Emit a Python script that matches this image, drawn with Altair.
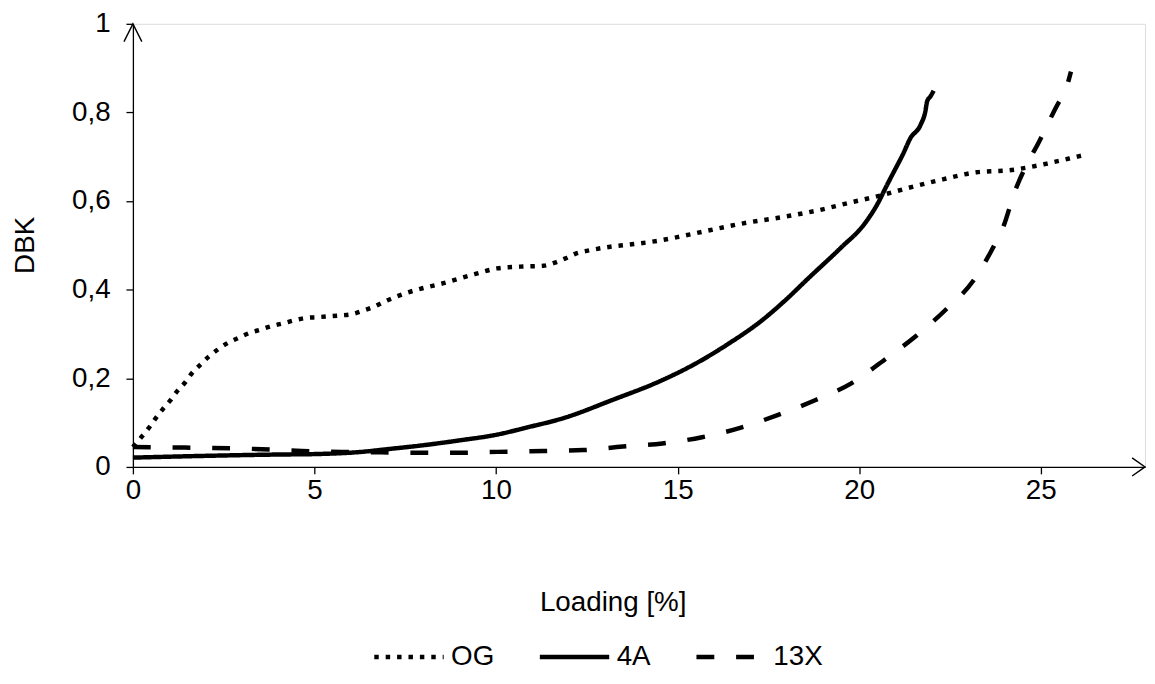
import altair as alt
import pandas as pd

# ---- data ----
og_x = [0.0, 0.24, 0.44, 0.63, 0.82, 1.03, 1.22, 1.43, 1.63, 1.86, 2.09, 2.34, 2.62, 2.9, 3.2, 3.52,
        3.83, 4.13, 4.45, 4.75, 5.08, 5.4, 5.72, 6.04, 6.35, 6.65, 6.95, 7.24, 7.54, 7.83, 8.16, 8.47,
        9.41, 10.03, 10.66, 11.3, 11.62, 11.92, 12.21, 12.53, 13.15, 13.8, 14.43, 15.07, 15.7, 16.33,
        16.96, 17.6, 18.24, 18.86, 19.82, 20.41, 21.37, 22.3, 23.23, 24.19, 25.14, 25.78, 26.15]
og_y = [0.045, 0.068, 0.088, 0.11, 0.13, 0.15, 0.171, 0.19, 0.212, 0.231, 0.249, 0.265, 0.28, 0.291,
        0.302, 0.31, 0.318, 0.324, 0.331, 0.336, 0.338, 0.34, 0.342, 0.345, 0.353, 0.362, 0.374, 0.384,
        0.393, 0.4, 0.407, 0.413, 0.435, 0.448, 0.452, 0.454, 0.461, 0.471, 0.482, 0.488, 0.497, 0.503,
        0.51, 0.52, 0.531, 0.542, 0.552, 0.56, 0.569, 0.579, 0.598, 0.609, 0.63, 0.649, 0.665, 0.67,
        0.684, 0.696, 0.703]

a4_x = [0.0, 2.0, 4.0, 5.0, 6.3, 7.0, 8.0, 9.0, 10.03, 10.85, 11.85, 13.2, 14.58, 15.49, 16.4, 17.31,
        17.95, 18.59, 19.5, 20.14, 20.5, 20.77, 20.96, 21.2, 21.41, 21.69, 21.82, 21.87, 21.96, 22.05]
a4_y = [0.021, 0.025, 0.028, 0.029, 0.034, 0.04, 0.049, 0.06, 0.073, 0.089, 0.11, 0.151, 0.196, 0.233,
        0.278, 0.33, 0.375, 0.425, 0.495, 0.548, 0.593, 0.637, 0.667, 0.705, 0.742, 0.772, 0.802, 0.825,
        0.836, 0.849]

x13_x = [0.0, 1.0, 2.0, 3.55, 4.65, 5.74, 6.83, 7.9, 9.0, 10.03, 11.3, 12.4, 13.49, 14.58, 15.67, 16.72,
         17.75, 18.8, 19.77, 20.7, 21.59, 22.41, 23.14, 23.64, 23.96, 24.3, 24.6, 24.96, 25.14, 25.51,
         25.65, 25.83]
x13_y = [0.045, 0.044, 0.043, 0.04, 0.036, 0.034, 0.033, 0.032, 0.032, 0.034, 0.036, 0.038, 0.046, 0.053,
         0.067, 0.088, 0.117, 0.151, 0.188, 0.242, 0.297, 0.357, 0.42, 0.488, 0.54, 0.625, 0.68, 0.735,
         0.765, 0.825, 0.843, 0.892]

series_names = ["OG", "4A", "13X"]
x_ticks = [0, 5, 10, 15, 20, 25]
y_ticks = [0, 0.2, 0.4, 0.6, 0.8, 1.0]
X_MAX = 27.87
Y_MAX = 1.0

rows = []
for name, xs, ys in [("OG", og_x, og_y), ("4A", a4_x, a4_y), ("13X", x13_x, x13_y)]:
    for i, (xv, yv) in enumerate(zip(xs, ys)):
        rows.append({"series": name, "x": xv, "y": yv, "i": i})
df = pd.DataFrame(rows)

FONT = "Liberation Sans"
FS = 28

xscale = alt.Scale(domain=[0, X_MAX], nice=False, zero=False)
yscale = alt.Scale(domain=[0, Y_MAX], nice=False)

lines = alt.Chart(df).mark_line(color="black", strokeWidth=4.5, strokeCap="butt", clip=False,
                                interpolate="monotone").encode(
    x=alt.X("x:Q", scale=xscale,
            axis=alt.Axis(values=x_ticks, title="Loading [%]", grid=False, domainColor="black",
                          domainWidth=1.3, tickColor="black", tickWidth=1.3, tickSize=7,
                          labelFont=FONT, labelFontSize=FS, labelColor="black", labelPadding=3,
                          titleFont=FONT, titleFontSize=FS, titleFontWeight="normal", titleColor="black",
                          titleX=484, titleY=137, titleBaseline="middle", titleAlign="center",
                          labelFlush=False)),
    y=alt.Y("y:Q", scale=yscale,
            axis=alt.Axis(values=y_ticks, title="DBK", grid=False, domainColor="black",
                          domainWidth=1.3, tickColor="black", tickWidth=1.3, tickSize=7,
                          labelFont=FONT, labelFontSize=FS, labelColor="black", labelPadding=16,
                          labelExpr="replace(format(datum.value, '.1~f'), '.', ',')",
                          titleFont=FONT, titleFontSize=FS, titleFontWeight="normal", titleColor="black",
                          titleX=-108, titleY=223, titleAngle=270, titleBaseline="middle",
                          titleAlign="center", labelFlush=False)),
    strokeDash=alt.StrokeDash("series:N",
                              scale=alt.Scale(domain=series_names, range=[[4.5, 7], [1, 0], [18, 22]]),
                              legend=alt.Legend(title=None, orient="none", direction="horizontal",
                                                legendX=241, legendY=601, symbolType="stroke",
                                                symbolSize=4900, symbolStrokeWidth=4.5,
                                                symbolStrokeColor="black", labelFont=FONT,
                                                labelFontSize=FS, labelColor="black", labelOffset=5,
                                                columnPadding=36)),
    order="i:Q",
    detail="series:N",
)

arrow_y = alt.Chart(pd.DataFrame({"x": [0], "y": [Y_MAX]})).mark_point(
    shape="M -0.5 1 L 0 0 L 0.5 1", filled=False, stroke="black", strokeWidth=1.4, size=1296,
    opacity=1, clip=False).encode(x=alt.X("x:Q", scale=xscale), y=alt.Y("y:Q", scale=yscale))

arrow_x = alt.Chart(pd.DataFrame({"x": [X_MAX], "y": [0]})).mark_point(
    shape="M -1 -0.7 L 0 0 L -1 0.7", filled=False, stroke="black", strokeWidth=1.4, size=676,
    opacity=1, clip=False).encode(x=alt.X("x:Q", scale=xscale), y=alt.Y("y:Q", scale=yscale))

chart = alt.layer(lines, arrow_y, arrow_x).properties(
    width=1021, height=447,
    autosize=alt.AutoSizeParams(type="none"),
    padding={"left": 126, "top": 13, "right": 2, "bottom": 214},
).configure_view(stroke=None).configure(background="white")

chart.save("out.html", embed_options={"renderer": "svg", "actions": False})
